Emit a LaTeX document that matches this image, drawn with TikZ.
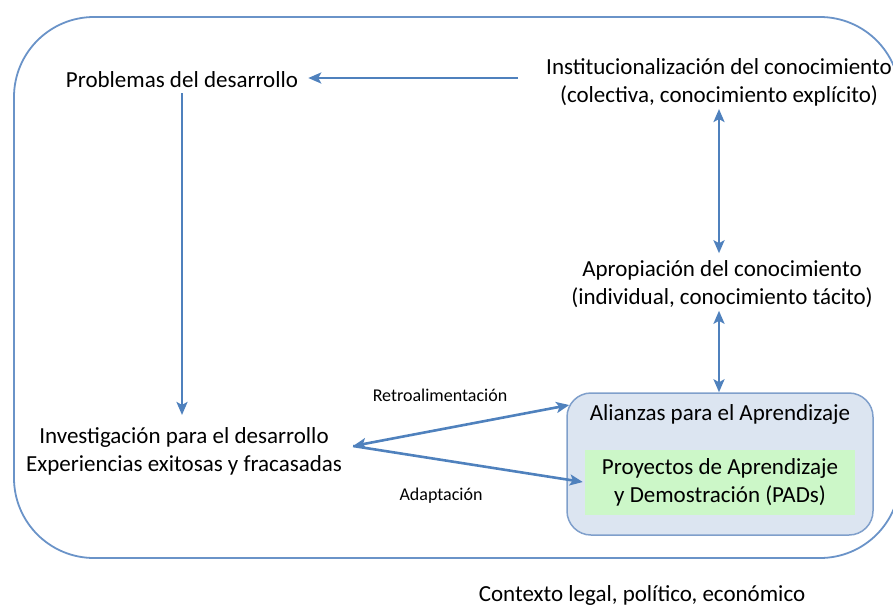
\documentclass[tikz,border=0pt]{standalone}
\usepackage{fontspec}
\setmainfont{Carlito}
\usetikzlibrary{arrows.meta}
\definecolor{lineblue}{HTML}{4F81BD}
\definecolor{outerblue}{HTML}{6A93C8}
\definecolor{boxblue}{HTML}{DCE5F1}
\definecolor{boxedge}{HTML}{7F9FCB}
\definecolor{boxgreen}{HTML}{CCF7C8}
\tikzset{
  txt/.style={align=center, inner sep=0pt, font=\fontsize{23}{28}\selectfont},
  small/.style={align=center, inner sep=0pt, font=\fontsize{18}{21}\selectfont},
  tip/.tip={Stealth[length=13pt,width=11pt,inset=3pt]},
  arr/.style={draw=lineblue, line width=2.6pt, -tip},
  darr/.style={draw=lineblue, line width=2.6pt, tip-tip},
}
\begin{document}
\begin{tikzpicture}[x=1pt,y=-1pt]
\useasboundingbox (0,0) rectangle (893,606);
\begin{scope}
\clip (0,0) rectangle (893,606);
\draw[outerblue, line width=1.8pt, rounded corners=80pt] (14,17) rectangle (900,558);
\end{scope}
\node[txt] (prob) at (182,80) {Problemas del desarrollo};
\node[txt] (inst) at (719,82) {Institucionalización del conocimiento\\(colectiva, conocimiento explícito)};
\node[txt] (apro) at (722,284) {Apropiación del conocimiento\\(individual, conocimiento tácito)};
\node[txt] (inv) at (184,451) {Investigación para el desarrollo\\Experiencias exitosas y fracasadas};
\node[draw=boxedge, fill=boxblue, line width=1.5pt, rounded corners=24pt, minimum width=306pt, minimum height=142pt, inner sep=0pt] (alibox) at (720,464) {};
\node[txt] (ali) at (720,414) {Alianzas para el Aprendizaje};
\node[txt, fill=boxgreen, minimum width=270pt, minimum height=65pt] (pad) at (720,482) {Proyectos de Aprendizaje\\y Demostración (PADs)};
\node[small] (retro) at (440,395) {Retroalimentación};
\node[small] (adap) at (441,496) {Adaptación};
\node[txt, anchor=base] (ctx) at (642,601) {Contexto legal, político, económico};
\draw[arr] ([xshift=-28pt,yshift=2pt]inst.west |- prob.east) -- ([xshift=10pt,yshift=2pt]prob.east);
\draw[arr] ([yshift=-5pt]prob.south) -- ([yshift=12pt]prob.south |- inv.north);
\draw[darr] ([yshift=-3pt]inst.south) -- ([yshift=7pt]inst.south |- apro.north);
\draw[darr] ([yshift=-3pt]apro.south -| inst.south) -- (inst.south |- alibox.north);
\draw[darr] ([xshift=11pt,yshift=5pt]inv.east) -- ([xshift=3pt,yshift=9pt]alibox.west |- ali.center);
\draw[arr] ([xshift=11pt,yshift=5pt]inv.east) -- ([xshift=-2pt]pad.west);
\end{tikzpicture}
\end{document}
